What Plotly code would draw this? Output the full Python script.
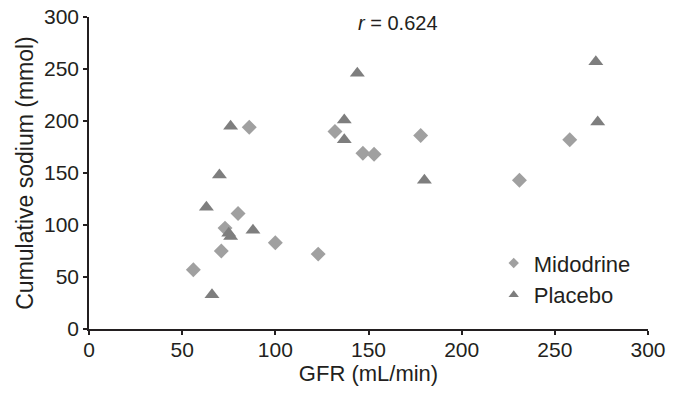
import plotly.graph_objects as go

mid_gfr = [56, 71, 73, 80, 86, 100, 123, 132, 147, 153, 178, 231, 258]
mid_na = [57, 75, 97, 111, 194, 83, 72, 190, 169, 168, 186, 143, 182]
pla_gfr = [144, 137, 137, 76, 70, 63, 88, 75, 76, 66, 180, 272, 273]
pla_na = [246, 201, 182, 195, 148, 117, 95, 92, 89, 33, 143, 257, 199]

x_ticks = [0, 50, 100, 150, 200, 250, 300]
y_ticks = [0, 50, 100, 150, 200, 250, 300]

font_family = "Liberation Sans, Arial, sans-serif"
text_color = "#231f20"
mid_color = "#a0a0a0"
pla_color = "#7e7e7e"

fig = go.Figure()
fig.add_trace(go.Scatter(
    x=mid_gfr, y=mid_na, mode="markers", name="Midodrine", showlegend=False,
    marker=dict(symbol="diamond", size=11.5, color=mid_color, line=dict(width=0)),
))
fig.add_trace(go.Scatter(
    x=pla_gfr, y=pla_na, mode="markers", name="Placebo", showlegend=False,
    marker=dict(symbol="triangle-up", size=13, color=pla_color, line=dict(width=0)),
))
# legend entries with smaller symbols
fig.add_trace(go.Scatter(
    x=[None], y=[None], mode="markers", name="Midodrine",
    marker=dict(symbol="diamond", size=8, color=mid_color, line=dict(width=0)),
))
fig.add_trace(go.Scatter(
    x=[None], y=[None], mode="markers", name="Placebo",
    marker=dict(symbol="triangle-up", size=9, color=pla_color, line=dict(width=0)),
))

fig.add_annotation(
    x=166, y=294, xref="x", yref="y", showarrow=False,
    text="<i>r</i> = 0.624", font=dict(size=20, color=text_color, family=font_family),
)

axis_common = dict(
    showgrid=False, zeroline=False, showline=True, linecolor="#231f20", linewidth=1.5,
    ticks="outside", ticklen=4, tickwidth=1.5, tickcolor="#231f20",
    tickfont=dict(size=21, color=text_color, family=font_family),
    automargin=False,
)

fig.update_layout(
    width=676, height=400,
    margin=dict(l=89, r=28, t=17, b=71),
    paper_bgcolor="white", plot_bgcolor="white",
    font=dict(family=font_family, color=text_color, size=21),
    xaxis=dict(range=[0, 300], tickvals=x_ticks, ticklabelstandoff=-3,
               title=dict(text="GFR (mL/min)", font=dict(size=22), standoff=4), **axis_common),
    yaxis=dict(range=[0, 300], tickvals=y_ticks,
               title=dict(text="Cumulative sodium (mmol)", font=dict(size=23), standoff=4), **axis_common),
    legend=dict(x=0.724, y=0.278, xanchor="left", yanchor="top",
                font=dict(size=22, color=text_color, family=font_family),
                bgcolor="rgba(0,0,0,0)", itemsizing="trace", tracegroupgap=0),
    showlegend=True,
)

fig.write_html("out.html", config={"displayModeBar": False},
               post_script="document.body.style.margin='0';")
